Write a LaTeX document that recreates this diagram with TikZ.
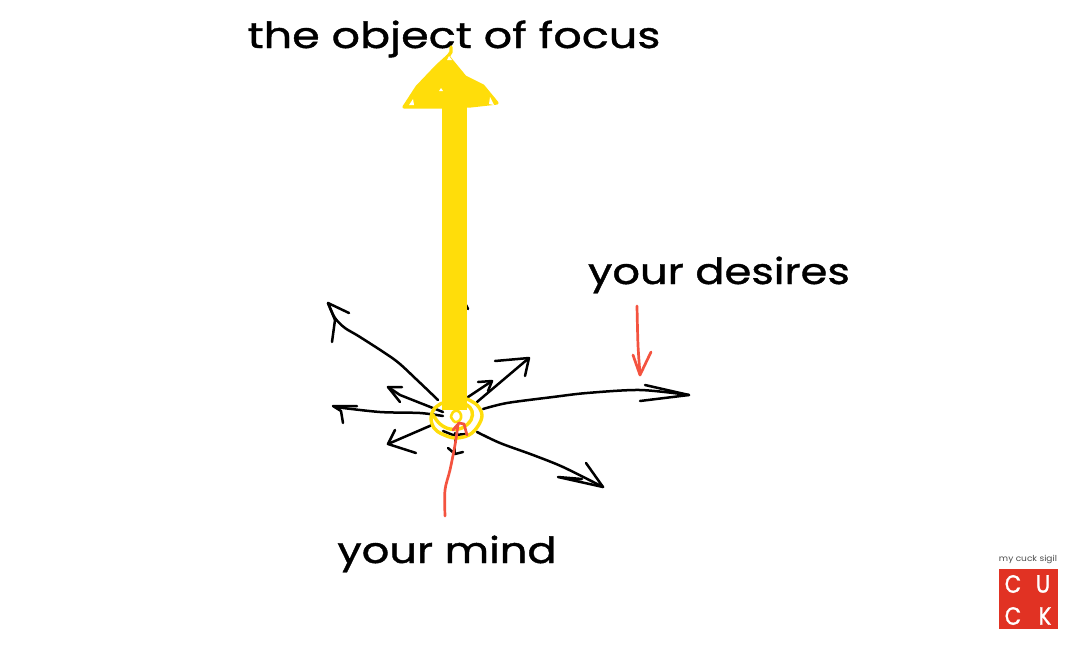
\documentclass[tikz,border=0pt]{standalone}
\usepackage{fontspec}
\setmainfont{Poppins}
\newfontfamily\lab{Poppins}[FakeStretch=1.2,FakeBold=1.1]
\newfontfamily\labwide{Poppins}[FakeStretch=1.235,FakeBold=1.1]
\newfontfamily\sigil{Poppins}[FakeStretch=0.85,FakeBold=1.0]
\definecolor{focusyellow}{HTML}{FFDD0A}
\definecolor{penred}{HTML}{F4533F}
\definecolor{sigilred}{HTML}{E13223}
\tikzset{
  pen/.style={draw=black,line width=2.5pt,line cap=round,line join=round},
  redpen/.style={draw=penred,line width=2.7pt,line cap=round,line join=round},
  yellowpen/.style={draw=focusyellow,line width=3.4pt,line cap=round,line join=round},
  biglabel/.style={font=\lab\fontsize{36}{36}\selectfont,text=black,inner sep=0pt,anchor=base},
  sigilletter/.style={font=\sigil\fontsize{25}{25}\selectfont,text=white,inner sep=0pt,anchor=center}
}
\begin{document}
\begin{tikzpicture}[x=1pt,y=-1pt]
\useasboundingbox (0,0) rectangle (1080,648);
\fill[white] (0,0) rectangle (1080,648);
\node[biglabel,font=\labwide\fontsize{36}{36}\selectfont] (focus) at (454,48) {the object of focus};
\node[biglabel] (desires) at (719,284) {your desires};
\node[biglabel] (mind) at (447,563) {your mind};
% black desire arrows
\draw[pen] plot[smooth,tension=.5] coordinates {(438,400) (416,379) (395,360) (360,337) (345,328) (335,318) (328,303)};
\draw[pen] (332,342) -- (335,320) -- (328,303) -- (349,313);
\draw[pen] (443,412) -- (400,395) -- (388,387);
\draw[pen] (402,387) -- (388,387) -- (400,402);
\draw[pen] plot[smooth,tension=.5] coordinates {(443,416) (420,413) (380,412) (335,407)};
\draw[pen] (357,406) -- (333,406) -- (341,411) -- (343,423);
\draw[pen] (432,425) -- (388,444);
\draw[pen] (395,430) -- (388,444) -- (416,453);
\draw[pen] (455,433) -- (455,454);
\draw[pen] (448,448) -- (455,454) -- (463,452);
\draw[pen] plot[smooth,tension=.5] coordinates {(477,432) (500,443) (533,455) (563,467) (603,487)};
\draw[pen] (586,463) -- (603,487) -- (558,477) -- (582,479);
\draw[pen] plot[smooth,tension=.5] coordinates {(483,409) (507,403) (553,397) (587,393) (640,390) (689,395)};
\draw[pen] (645,385) -- (689,395) -- (640,401);
\draw[pen] (477,402) -- (529,358);
\draw[pen] (495,361) -- (529,358) -- (525,376);
\draw[pen] (468,397) -- (492,381);
\draw[pen] (478,382) -- (492,381) -- (488,391);
\draw[pen] (466,305) -- (468,309);
\draw[pen] (443,431) -- (453,435) -- (467,434);
% yellow focus arrow
\fill[focusyellow] (442,100) rectangle (467,410);
\filldraw[draw=focusyellow,fill=focusyellow,line width=3.2pt,line join=round] (404,107) -- (417,87) -- (437,66) -- (448,56) -- (451,60) -- (465,77) -- (483,86) -- (497,103) -- (470,106) -- (440,107) -- cycle;
\draw[yellowpen] (447,58) -- (451,52) -- (451,47);
\fill[white] (409,105) -- (413,99) -- (414,105) -- cycle;
\fill[white] (489,104) -- (494,105) -- (490,97) -- cycle;
\fill[white] (447,60) -- (452,60) -- (449,56) -- cycle;
\fill[white] (439,91) -- (443,91) -- (441,88) -- cycle;
% spiral
\draw[yellowpen] plot[smooth,tension=.6] coordinates {(442,403) (434,409) (431,418) (434,428) (442,434) (455,438) (469,435) (478,426) (482,415) (477,405) (467,399)};
\draw[yellowpen] plot[smooth,tension=.6] coordinates {(433,415) (440,424) (450,429) (462,428) (471,420) (472,411) (467,405) (460,404)};
\draw[yellowpen,line width=2.6pt] plot[smooth,tension=.7] coordinates {(451,417) (453,412) (458,411) (461,415) (460,420) (455,422) (451,417)};
% red pointers
\draw[redpen] plot[smooth,tension=.5] coordinates {(445,516) (445,490) (450,470) (455,445) (458,425)};
\draw[redpen] (453,430) -- (459,423) -- (464,424) -- (467,435);
\draw[redpen] plot[smooth,tension=.5] coordinates {(637,306) (638,345) (640,374)};
\draw[redpen] (633,355) -- (640,375) -- (651,352);
% sigil
\node[font=\sigil\fontsize{8.2}{8.2}\selectfont,text=black!70,inner sep=0pt] (caption) at (1028,559) {\addfontfeatures{FakeStretch=1.1,FakeBold=0}my cuck sigil};
\fill[sigilred] (999,569) rectangle (1058,629);
\node[sigilletter] (c1) at (1013,584) {C};
\node[sigilletter] (u) at (1043,584) {U};
\node[sigilletter] (c2) at (1013,616) {C};
\node[sigilletter] (k) at (1045,616) {K};
\end{tikzpicture}
\end{document}
